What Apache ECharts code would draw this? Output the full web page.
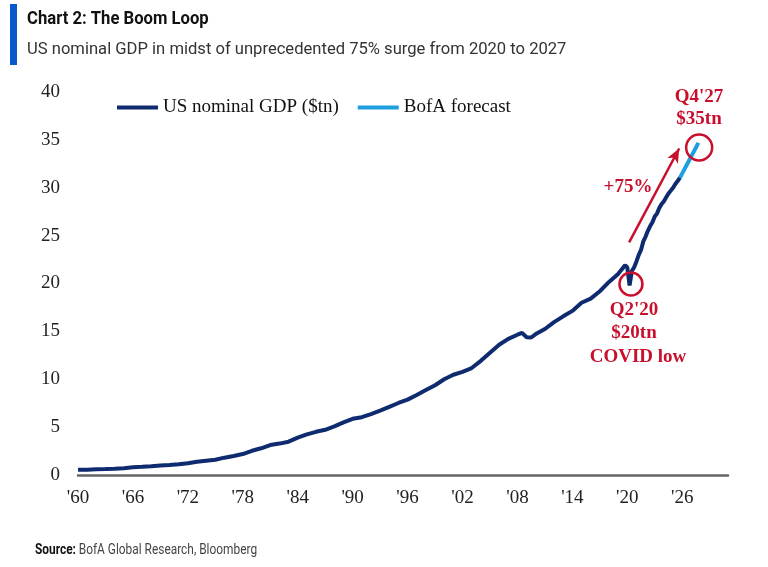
<!DOCTYPE html>
<html>
<head>
<meta charset="utf-8">
<script src="https://cdn.jsdelivr.net/npm/echarts@6/dist/echarts.min.js"></script>
<style>
html,body{margin:0;padding:0;background:#fff;}
#chart{width:768px;height:567px;}
</style>
</head>
<body>
<div id="chart"></div>
<script>
// ---- data ----
const histYears = [1960,1961,1962,1963,1964,1965,1966,1967,1968,1969,1970,1971,1972,1973,1974,1975,1976,1977,1978,1979,
  1980,1981,1982,1983,1984,1985,1986,1987,1988,1989,1990,1991,1992,1993,1994,1995,1996,1997,1998,1999,
  2000,2001,2002,2003,2004,2005,2006,2007,2008,2008.5,2009,2009.5,2010,2011,2012,2013,2014,2015,2016,2017,2018,
  2019,2019.25,2019.5,2019.75,2020,2020.25,2020.5,2020.75,2021,2021.25,2021.5,2021.75,2022,2022.25,2022.5,2022.75,
  2023,2023.25,2023.5,2023.75,2024,2024.25,2024.5,2024.75,2025,2025.25,2025.5,2025.75];
const histGDP = [0.54,0.55,0.59,0.62,0.66,0.71,0.80,0.85,0.91,1.00,1.05,1.13,1.23,1.38,1.49,1.59,1.81,1.99,2.19,2.53,
  2.79,3.13,3.28,3.48,3.91,4.24,4.51,4.72,5.07,5.49,5.87,6.04,6.36,6.73,7.12,7.52,7.87,8.36,8.87,9.37,
  10.00,10.47,10.78,11.17,11.92,12.76,13.60,14.22,14.65,14.84,14.38,14.36,14.72,15.25,15.97,16.57,17.14,17.99,18.42,19.19,20.16,
  21.0,21.3,21.6,21.9,21.7,19.8,21.3,21.7,22.3,23.0,23.5,24.4,24.9,25.5,26.0,26.4,
  27.0,27.3,27.9,28.3,28.6,29.0,29.4,29.7,30.0,30.4,30.7,31.05];
const fcYears = [2025.75,2026,2026.25,2026.5,2026.75,2027,2027.25,2027.5,2027.75];
const fcGDP   = [31.05,31.5,31.95,32.4,32.85,33.3,33.75,34.2,34.7];
const xTickYears = [1960,1966,1972,1978,1984,1990,1996,2002,2008,2014,2020,2026];
const yTicks = [0,5,10,15,20,25,30,35,40];
const covidLow = [2020.4, 19.95];
const fcPeak = [2027.85, 34.2];
const surgeArrow = [[2020.2, 24.3], [2025.67, 34.1]];

const NAVY = '#0d2b6e', LIGHT = '#1ea0e0', RED = '#c8102e';
const SERIF = "'Liberation Serif','Times New Roman',serif";
const SANS = "Roboto,'Liberation Sans',sans-serif";

const zip = (xs, ys) => xs.map((x, i) => [x, ys[i]]);

const chart = echarts.init(document.getElementById('chart'), null, {renderer: 'canvas'});
chart.setOption({
  animation: false,
  backgroundColor: '#fff',
  grid: {left: 78, right: 40, top: 92, bottom: 92, containLabel: false},
  legend: {
    left: 112, top: 93, icon: 'rect', itemWidth: 41, itemHeight: 4, itemGap: 19,
    textStyle: {fontFamily: SERIF, fontSize: 19, color: '#111'},
    data: ['US nominal GDP ($tn)', 'BofA forecast']
  },
  xAxis: {
    type: 'value', min: 1960, max: 2031,
    splitLine: {show: false},
    axisLine: {show: true, onZero: false, lineStyle: {color: '#666', width: 2.5}},
    axisTick: {show: false},
    axisLabel: {
      customValues: xTickYears, margin: 14,
      fontFamily: SERIF, fontSize: 19, color: '#222',
      formatter: v => "'" + String(Math.round(v)).slice(2)
    }
  },
  yAxis: {
    type: 'value', min: 0, max: 40, interval: 5,
    splitLine: {show: false}, axisLine: {show: false}, axisTick: {show: false},
    axisLabel: {margin: 18, fontFamily: SERIF, fontSize: 19, color: '#222',
      customValues: yTicks}
  },
  series: [
    {
      name: 'US nominal GDP ($tn)', type: 'line', data: zip(histYears, histGDP),
      showSymbol: false, smooth: false, color: NAVY,
      lineStyle: {width: 4, color: NAVY}, z: 3,
      markPoint: {
        silent: true, symbol: 'circle', symbolSize: 23,
        itemStyle: {color: 'rgba(0,0,0,0)', borderColor: RED, borderWidth: 2.5},
        label: {show: false},
        data: [{coord: covidLow}]
      }
    },
    {
      name: 'BofA forecast', type: 'line', data: zip(fcYears, fcGDP),
      showSymbol: false, color: LIGHT,
      lineStyle: {width: 4, color: LIGHT}, z: 4,
      markPoint: {
        silent: true, symbol: 'circle', symbolSize: 26,
        itemStyle: {color: 'rgba(0,0,0,0)', borderColor: RED, borderWidth: 2.5},
        label: {show: false},
        data: [{coord: fcPeak}]
      },
      markLine: {
        silent: true, symbol: ['none', 'arrow'], symbolSize: [9, 14],
        label: {show: false},
        lineStyle: {type: 'solid', width: 2.5, color: RED},
        data: [[{coord: surgeArrow[0]}, {coord: surgeArrow[1]}]]
      }
    }
  ],
  graphic: [
    {type: 'rect', shape: {x: 10, y: 4, width: 7, height: 61}, style: {fill: '#0857cf'}},
    {type: 'text', x: 27, y: 10, scaleX: 0.9, style: {text: 'Chart 2: The Boom Loop', font: "bold 18.5px " + SANS, fill: '#111'}},
    {type: 'text', x: 27, y: 41, style: {text: 'US nominal GDP in midst of unprecedented 75% surge from 2020 to 2027', font: "16.6px " + SANS, fill: '#333'}},
    {type: 'text', x: 35, y: 543, scaleX: 0.85, style: {
      rich: {b: {fontFamily: SANS, fontWeight: 'bold', fontSize: 14, fill: '#111'},
             r: {fontFamily: SANS, fontSize: 14, fill: '#444'}},
      text: '{b|Source:} {r|BofA Global Research, Bloomberg}'}},
    {type: 'text', x: 699, y: 97, style: {text: "Q4'27", font: "bold 19px " + SERIF, fill: RED, align: 'center', verticalAlign: 'middle'}},
    {type: 'text', x: 699, y: 119, style: {text: '$35tn', font: "bold 19px " + SERIF, fill: RED, align: 'center', verticalAlign: 'middle'}},
    {type: 'text', x: 628, y: 187, style: {text: '+75%', font: "bold 19px " + SERIF, fill: RED, align: 'center', verticalAlign: 'middle'}},
    {type: 'text', x: 634, y: 310, style: {text: "Q2'20", font: "bold 19px " + SERIF, fill: RED, align: 'center', verticalAlign: 'middle'}},
    {type: 'text', x: 634, y: 333, style: {text: '$20tn', font: "bold 19px " + SERIF, fill: RED, align: 'center', verticalAlign: 'middle'}},
    {type: 'text', x: 638, y: 357, style: {text: 'COVID low', font: "bold 19px " + SERIF, fill: RED, align: 'center', verticalAlign: 'middle'}}
  ]
});
</script>
</body>
</html>
